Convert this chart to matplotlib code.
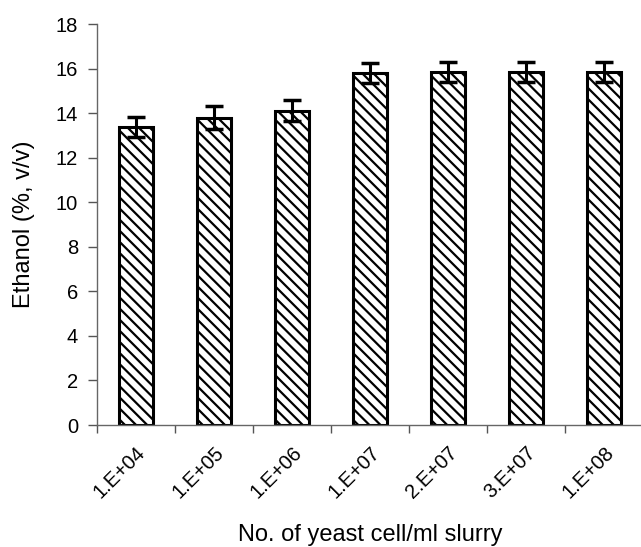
import numpy as np
import matplotlib
matplotlib.use('Agg')
import matplotlib.pyplot as plt

plt.rcParams['font.family'] = ['Liberation Sans', 'DejaVu Sans']
plt.rcParams['hatch.linewidth'] = 1.6

# данные
labels = ['1.E+04', '1.E+05', '1.E+06', '1.E+07', '2.E+07', '3.E+07', '1.E+08']
ethanol = [13.4, 13.8, 14.1, 15.8, 15.85, 15.85, 15.85]
err = [0.45, 0.5, 0.47, 0.45, 0.45, 0.45, 0.45]

fig = plt.figure(figsize=(6.41, 5.47), dpi=100)
ax = fig.add_axes([0.151, 0.223, 0.852, 0.733])

x = np.arange(len(labels))
ax.bar(x, ethanol, width=0.44, color='white', edgecolor='black',
       linewidth=2.2, hatch='\\\\\\', zorder=2)
ax.errorbar(x, ethanol, yerr=err, fmt='none', ecolor='black',
            elinewidth=2.2, capsize=6.5, capthick=2.5, zorder=3)

ax.set_xlim(-0.5, 6.5)
ax.set_ylim(0, 18)
ax.set_yticks(range(0, 19, 2))

ax.set_xticks(x)
ax.set_xticklabels(labels, rotation=45, ha='right', rotation_mode='anchor', fontsize=14.5)
ax.tick_params(axis='x', which='major', length=0, pad=13)
ax.set_xticks(np.arange(-0.5, 7, 1), minor=True)
ax.tick_params(axis='x', which='minor', length=6, width=1, color='#555555')
ax.tick_params(axis='y', length=6.5, width=1, color='#555555', labelsize=14.5, pad=7)

for s in ['top', 'right']:
    ax.spines[s].set_visible(False)
for s in ['left', 'bottom']:
    ax.spines[s].set_color('#666666')
    ax.spines[s].set_linewidth(1)

ax.set_ylabel('Ethanol (%, v/v)', fontsize=17)
ax.yaxis.set_label_coords(-0.113, 0.5)
ax.set_xlabel('No. of yeast cell/ml slurry', fontsize=17, va='top')
ax.xaxis.set_label_coords(0.5, -0.248)

plt.savefig('out.png', dpi=100)
